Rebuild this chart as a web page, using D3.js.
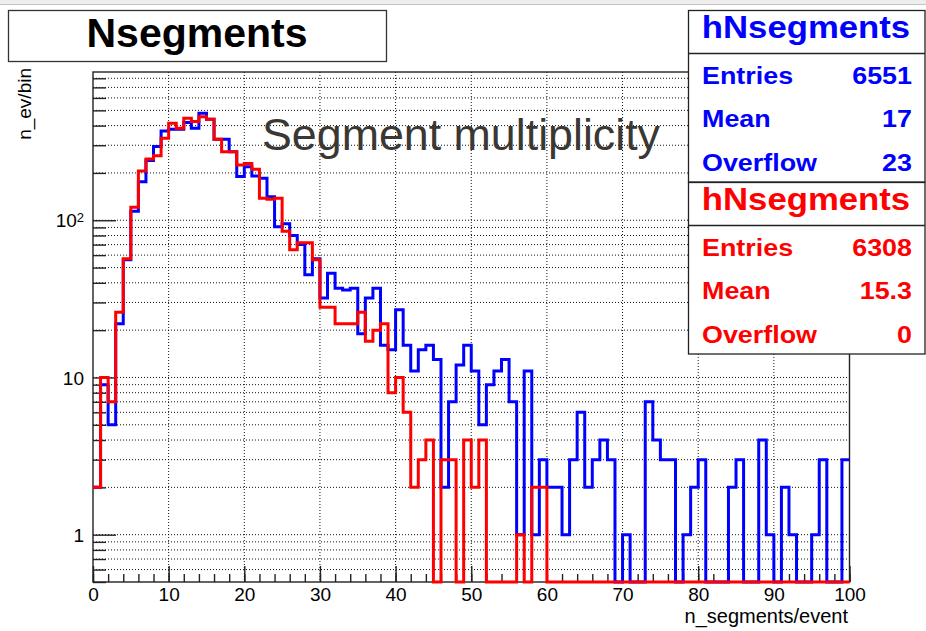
<!DOCTYPE html>
<html lang="en">
<head>
<meta charset="UTF-8">
<title>Nsegments</title>
<script src="https://cdn.jsdelivr.net/npm/d3@7"></script>
<style>
    body { margin: 0; background: #fff; }
    svg text { font-family: "Liberation Sans", Arial, sans-serif; }
    .grid line { stroke: #111; stroke-width: 1; stroke-dasharray: 1,2; }
    .axis line { stroke: #222; stroke-width: 1.4; }
    .axis text { font-size: 19px; fill: #000; font-family: "Liberation Sans", Arial, sans-serif; }
</style>
</head>
<body>
<svg id="chart" width="926" height="631"></svg>
<script>
    // bin contents, one bin per unit from 0 to 100
    const blueCounts = [
        2, 9, 5, 22, 56, 114, 176, 240, 294, 370,
        379, 379, 418, 385, 480, 439, 328, 328, 273, 190,
        219, 191, 185, 141, 91, 95, 80, 70, 45, 57,
        32, 46, 37, 36, 37, 19, 32, 37, 16, 15,
        27, 16, 11, 15, 16, 13, 2, 7, 12, 16,
        11, 5, 9, 11, 13, 7, 1, 11, 1, 3,
        2, 2, 1, 3, 6, 2, 3, 4, 3, 0,
        1, 0, 0, 7, 4, 3, 3, 0, 1, 2,
        3, 0, 0, 0, 2, 3, 0, 0, 4, 1,
        0, 2, 1, 0, 0, 1, 3, 0, 0, 3
    ]
    const redCounts = [
        2, 10, 7, 26, 57, 121, 206, 245, 257, 332,
        414, 385, 445, 425, 456, 439, 328, 273, 273, 225,
        230, 211, 138, 136, 138, 85, 65, 72, 72, 56,
        28, 28, 22, 22, 22, 26, 17, 20, 22, 8,
        10, 6, 2, 3, 4, 0, 3, 3, 0, 4,
        2, 4, 0, 0, 0, 0, 1, 0, 2, 2,
        0, 0, 0, 0, 0, 0, 0, 0, 0, 0,
        0, 0, 0, 0, 0, 0, 0, 0, 0, 0,
        0, 0, 0, 0, 0, 0, 0, 0, 0, 0,
        0, 0, 0, 0, 0, 0, 0, 0, 0, 0
    ]
    const yLabelTicks = [1, 10, 100]
    const statLabels = ["Entries", "Mean", "Overflow"]
    const blueStats = ["6551", "17", "23"]
    const redStats = ["6308", "15.3", "0"]
    const histName = "hNsegments"
    const title = "Nsegments"

    const svg = d3.select("#chart")
    const pLeft = 93, pRight = 849.5, pTop = 72, pBottom = 582

    const x = d3.scaleLinear().domain([0, 100]).range([pLeft, pRight])
    const y = d3.scaleLog().domain([0.5, 877]).range([pBottom, pTop])

    // slide edge
    svg.append("rect").attr("x", 0).attr("y", 0).attr("width", 926).attr("height", 4).attr("fill", "#eeeeee")
    svg.append("line").attr("x1", 0).attr("x2", 926).attr("y1", 4.5).attr("y2", 4.5).attr("stroke", "#c4c4c4")

    // grid
    const grid = svg.append("g").attr("class", "grid")
    grid.selectAll(".gx").data(x.ticks(10).filter(d => d > 0 && d < 100)).enter().append("line")
        .attr("x1", d => x(d)).attr("x2", d => x(d)).attr("y1", pTop).attr("y2", pBottom)
    grid.selectAll(".gy").data(y.ticks().filter(d => d > 0.5)).enter().append("line")
        .attr("x1", pLeft).attr("x2", pRight).attr("y1", d => y(d)).attr("y2", d => y(d))

    // axes, ticks pointing into the frame
    const xMajor = d3.axisBottom(x).tickValues(x.ticks(10)).tickSize(-16).tickPadding(6).tickFormat(d3.format("d"))
    const xMinor = d3.axisBottom(x).tickValues(x.ticks(50)).tickSize(-8).tickFormat("")
    const yMinor = d3.axisLeft(y).tickValues(y.ticks().filter(d => yLabelTicks.indexOf(d) < 0)).tickSize(-13).tickFormat("")
    const yMajor = d3.axisLeft(y).tickValues(yLabelTicks).tickSize(-23).tickPadding(9).tickFormat("")

    svg.append("g").attr("class", "axis").attr("transform", `translate(0,${pBottom})`).call(xMinor)
    svg.append("g").attr("class", "axis").attr("transform", `translate(0,${pBottom})`).call(xMajor)
    svg.append("g").attr("class", "axis").attr("transform", `translate(${pLeft},0)`).call(yMinor)
    const yg = svg.append("g").attr("class", "axis").attr("transform", `translate(${pLeft},0)`).call(yMajor)
    svg.selectAll(".axis .domain").remove()

    // y labels: 1, 10, 10^2
    yg.selectAll(".tick text").each(function (d) {
        const t = d3.select(this).attr("dy", "0.35em").attr("x", -9)
        if (d < 100) t.text(d)
        else {
            t.text("10")
            t.append("tspan").attr("dy", "-0.45em").attr("font-size", "13px").text("2")
        }
    })

    // frame
    svg.append("rect").attr("x", pLeft).attr("y", pTop).attr("width", pRight - pLeft).attr("height", pBottom - pTop)
        .attr("fill", "none").attr("stroke", "#222").attr("stroke-width", 1.4)

    // histograms
    function histPath(vals) {
        const pts = vals.map((v, i) => [i, v]).concat([[vals.length, vals[vals.length - 1]]])
        return d3.line()
            .x(d => x(d[0]))
            .y(d => d[1] > 0 ? y(d[1]) : pBottom)
            .curve(d3.curveStepAfter)(pts)
    }
    svg.append("path").attr("d", histPath(blueCounts)).attr("fill", "none")
        .attr("stroke", "#0000ff").attr("stroke-width", 3)
    svg.append("path").attr("d", histPath(redCounts)).attr("fill", "none")
        .attr("stroke", "#ff0000").attr("stroke-width", 3)

    // axis titles
    svg.append("text").attr("x", 848).attr("y", 623).attr("text-anchor", "end")
        .attr("font-size", "20px").text("n_segments/event")
    svg.append("text").attr("transform", "translate(31,68) rotate(-90)").attr("text-anchor", "end")
        .attr("font-size", "19px").text("n_ev/bin")

    // annotation
    svg.append("text").attr("x", 262).attr("y", 150)
        .attr("font-family", "Lato, 'Open Sans', sans-serif").attr("font-size", "44px")
        .attr("fill", "#3b3833").attr("textLength", 398).attr("lengthAdjust", "spacingAndGlyphs")
        .text("Segment multiplicity")

    // title box
    svg.append("rect").attr("x", 8.5).attr("y", 10.5).attr("width", 378).attr("height", 51)
        .attr("fill", "#fff").attr("stroke", "#333").attr("stroke-width", 1.3)
    svg.append("text").attr("x", 197).attr("y", 47).attr("text-anchor", "middle")
        .attr("font-size", "41px").attr("font-weight", "bold").text(title)

    // stats boxes
    function statText(x0, y0, str, anchor, size, color) {
        svg.append("text").attr("transform", `translate(${x0},${y0}) scale(1.12,1)`)
            .attr("text-anchor", anchor).attr("font-size", size + "px").attr("font-weight", "bold")
            .attr("fill", color).text(str)
    }
    function statBox(y0, stats, color) {
        svg.append("rect").attr("x", 688.5).attr("y", y0).attr("width", 236.5).attr("height", 171.5)
            .attr("fill", "#fff").attr("stroke", "#222").attr("stroke-width", 1.3)
        svg.append("line").attr("x1", 688.5).attr("x2", 925).attr("y1", y0 + 43).attr("y2", y0 + 43)
            .attr("stroke", "#222").attr("stroke-width", 1.3)
        statText(806, y0 + 27, histName, "middle", 31, color)
        stats.forEach((s, i) => {
            const yy = y0 + 73 + i * 43.5
            statText(702, yy, statLabels[i], "start", 24, color)
            statText(912, yy, s, "end", 24, color)
        })
    }
    statBox(10.5, blueStats, "#0000ff")
    statBox(182.5, redStats, "#ff0000")
</script>
</body>
</html>
